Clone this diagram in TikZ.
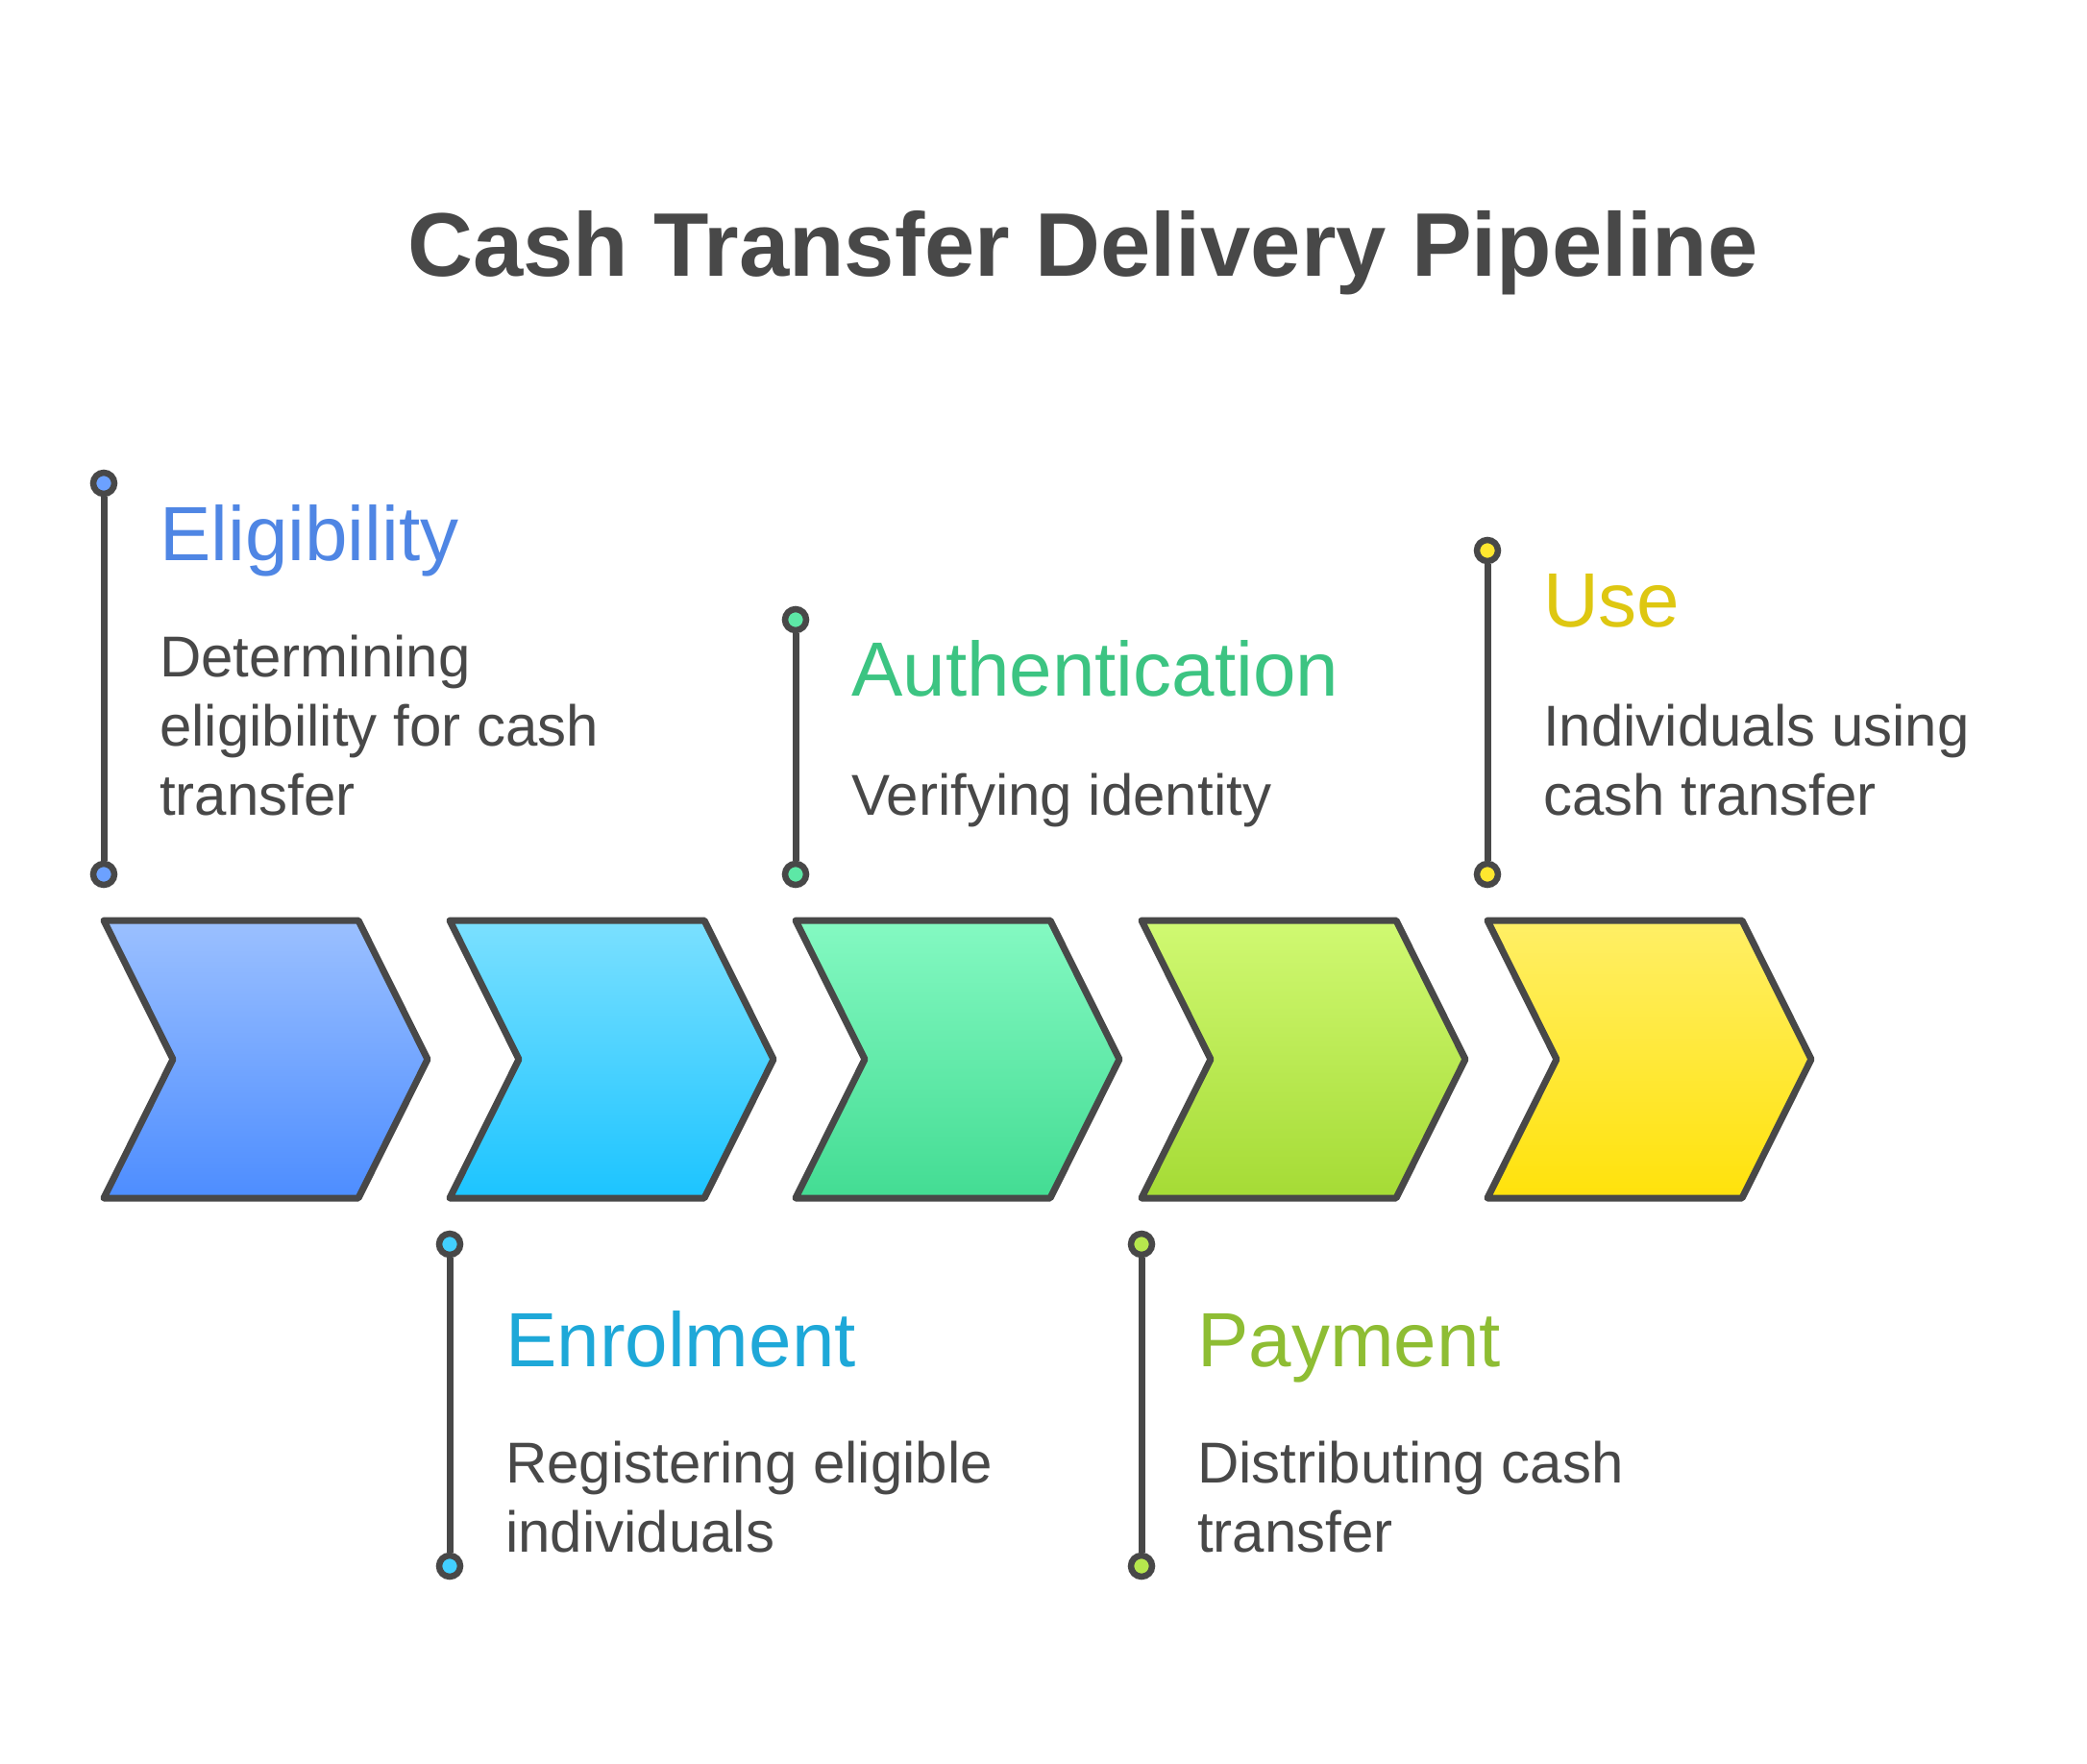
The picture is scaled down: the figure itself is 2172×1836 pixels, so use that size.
\documentclass[tikz,border=0pt]{standalone}
\usepackage{fontspec}
\setmainfont{Liberation Sans}
\usetikzlibrary{positioning}

\definecolor{ink}{HTML}{484848}
\definecolor{eligA}{HTML}{9BC0FF}
\definecolor{eligB}{HTML}{4D8DFF}
\definecolor{eligT}{HTML}{4F86E4}
\definecolor{enrolA}{HTML}{7BE0FF}
\definecolor{enrolB}{HTML}{1CC4FF}
\definecolor{enrolT}{HTML}{1EA8D8}
\definecolor{authA}{HTML}{84F9C2}
\definecolor{authB}{HTML}{43DC93}
\definecolor{authT}{HTML}{3CC482}
\definecolor{payA}{HTML}{D0F972}
\definecolor{payB}{HTML}{A5DB35}
\definecolor{payT}{HTML}{8EBD33}
\definecolor{useA}{HTML}{FFEF66}
\definecolor{useB}{HTML}{FFE20B}
\definecolor{useT}{HTML}{DEC711}

\begin{document}
\begin{tikzpicture}[x=1pt, y=-1pt,
    chev/.style={draw=ink, line width=7pt, line join=round},
    dot/.style={circle, draw=ink, line width=6.5pt, minimum size=22pt, inner sep=0pt},
    stem/.style={draw=ink, line width=7pt},
    head/.style={anchor=base west, inner sep=0pt, font=\fontsize{80}{96}\selectfont},
    desc/.style={anchor=north west, inner sep=0pt, align=left, text=ink, font=\fontsize{60}{72}\selectfont},
    title/.style={anchor=base, inner sep=0pt, text=ink, font=\bfseries\fontsize{94}{110}\selectfont}
]
\useasboundingbox[fill=white] (0,0) rectangle (2172,1836);

\node[title] (title) at (1127, 287) {Cash Transfer Delivery Pipeline};

% chevrons
\foreach \x/\ca/\cb in {108/eligA/eligB, 468/enrolA/enrolB, 828/authA/authB, 1188/payA/payB, 1548/useA/useB}
  \draw[chev, top color=\ca, bottom color=\cb] (\x,958) -- ++(265,0) -- ++(72,144.5) -- ++(-72,144.5) -- ++(-265,0) -- ++(72,-144.5) -- cycle;

% stages above
\node[dot, fill=eligA!40!eligB] (elig-top) at (108, 503) {};
\node[dot, fill=eligA!40!eligB] (elig-bot) at (108, 910) {};
\draw[stem] (elig-top) -- (elig-bot);
\node[head, text=eligT] (elig-head) at (166, 583) {Eligibility};
\node[desc] (elig-desc) at (166, 661) {Determining\\eligibility for cash\\transfer};

\node[dot, fill=authA!40!authB] (auth-top) at (828, 645) {};
\node[dot, fill=authA!40!authB] (auth-bot) at (828, 910) {};
\draw[stem] (auth-top) -- (auth-bot);
\node[head, text=authT] (auth-head) at (886, 724) {Authentication};
\node[desc] (auth-desc) at (886, 805) {Verifying identity};

\node[dot, fill=useA!40!useB] (use-top) at (1548, 573) {};
\node[dot, fill=useA!40!useB] (use-bot) at (1548, 910) {};
\draw[stem] (use-top) -- (use-bot);
\node[head, text=useT] (use-head) at (1606, 652) {Use};
\node[desc] (use-desc) at (1606, 733) {Individuals using\\cash transfer};

% stages below
\node[dot, fill=enrolA!40!enrolB] (enrol-top) at (468, 1295) {};
\node[dot, fill=enrolA!40!enrolB] (enrol-bot) at (468, 1630) {};
\draw[stem] (enrol-top) -- (enrol-bot);
\node[head, text=enrolT] (enrol-head) at (526, 1422) {Enrolment};
\node[desc] (enrol-desc) at (526, 1500) {Registering eligible\\individuals};

\node[dot, fill=payA!40!payB] (pay-top) at (1188, 1295) {};
\node[dot, fill=payA!40!payB] (pay-bot) at (1188, 1630) {};
\draw[stem] (pay-top) -- (pay-bot);
\node[head, text=payT] (pay-head) at (1246, 1422) {Payment};
\node[desc] (pay-desc) at (1246, 1500) {Distributing cash\\transfer};
\end{tikzpicture}
\end{document}
